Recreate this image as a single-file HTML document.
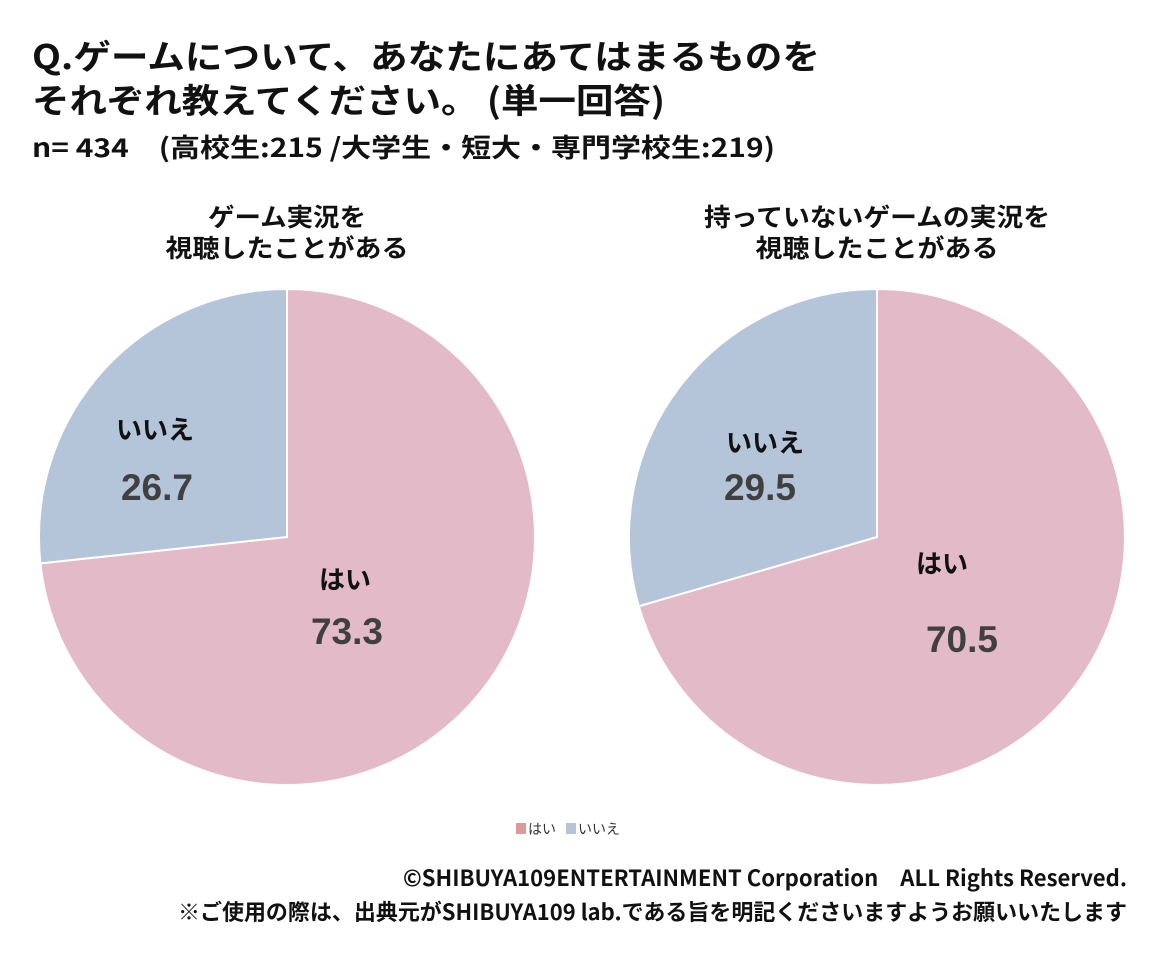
<!DOCTYPE html>
<html><head><meta charset="utf-8"><style>
body{margin:0;background:#fff;}
svg{display:block}
text{font-family:"Liberation Sans","Noto Sans CJK JP",sans-serif;}
.j{font-family:"Noto Sans CJK JP",sans-serif;font-weight:bold;}
</style></head><body>
<svg width="1160" height="970" viewBox="0 0 1160 970" xmlns="http://www.w3.org/2000/svg">
<rect width="1160" height="970" fill="#fff"/>
<text class="j" x="32" y="69" font-size="34" fill="#111" textLength="788" lengthAdjust="spacingAndGlyphs">Q.ゲームについて、あなたにあてはまるものを</text>
<text class="j" x="32" y="113" font-size="34" fill="#111" textLength="633" lengthAdjust="spacingAndGlyphs">それぞれ教えてください。 (単一回答)</text>
<text class="j" x="32" y="157" font-size="26" fill="#111" textLength="743" lengthAdjust="spacingAndGlyphs">n= 434　(高校生:215 /大学生・短大・専門学校生:219)</text>
<text class="j" x="287" y="226" font-size="25" fill="#111" text-anchor="middle" textLength="158" lengthAdjust="spacingAndGlyphs">ゲーム実況を</text>
<text class="j" x="287" y="257" font-size="25" fill="#111" text-anchor="middle" textLength="243" lengthAdjust="spacingAndGlyphs">視聴したことがある</text>
<text class="j" x="877" y="226" font-size="25" fill="#111" text-anchor="middle" textLength="346" lengthAdjust="spacingAndGlyphs">持っていないゲームの実況を</text>
<text class="j" x="877" y="257" font-size="25" fill="#111" text-anchor="middle" textLength="243" lengthAdjust="spacingAndGlyphs">視聴したことがある</text>
<!-- pie 1 -->
<path d="M287,537 L287,289 A248,248 0 1 1 40.4,563.4 Z" fill="#e3bbc8" stroke="#fff" stroke-width="2"/>
<path d="M287,537 L40.4,563.4 A248,248 0 0 1 287,289 Z" fill="#b4c5da" stroke="#fff" stroke-width="2"/>
<text class="j" x="155" y="439" font-size="26" fill="#111" text-anchor="middle">いいえ</text>
<text x="157" y="500" font-size="37" font-weight="bold" fill="#404040" text-anchor="middle">26.7</text>
<text class="j" x="345" y="589" font-size="26" fill="#111" text-anchor="middle">はい</text>
<text x="347" y="644" font-size="37" font-weight="bold" fill="#404040" text-anchor="middle">73.3</text>
<!-- pie 2 -->
<path d="M877,537 L877,289 A248,248 0 1 1 638.8,606.2 Z" fill="#e3bbc8" stroke="#fff" stroke-width="2"/>
<path d="M877,537 L638.8,606.2 A248,248 0 0 1 877,289 Z" fill="#b4c5da" stroke="#fff" stroke-width="2"/>
<text class="j" x="765" y="452" font-size="26" fill="#111" text-anchor="middle">いいえ</text>
<text x="760" y="500" font-size="37" font-weight="bold" fill="#404040" text-anchor="middle">29.5</text>
<text class="j" x="942" y="573" font-size="26" fill="#111" text-anchor="middle">はい</text>
<text x="962" y="652" font-size="37" font-weight="bold" fill="#404040" text-anchor="middle">70.5</text>
<!-- legend -->
<rect x="516" y="823" width="10" height="11" fill="#dc9a9a"/>
<text x="528" y="834" font-size="14" fill="#333" font-family="Noto Sans CJK JP,sans-serif">はい</text>
<rect x="566" y="823" width="10" height="11" fill="#b4c5da"/>
<text x="578" y="834" font-size="14" fill="#333" font-family="Noto Sans CJK JP,sans-serif">いいえ</text>
<text class="j" x="1127" y="886" font-size="22" fill="#111" text-anchor="end" textLength="724" lengthAdjust="spacingAndGlyphs">©SHIBUYA109ENTERTAINMENT Corporation　ALL Rights Reserved.</text>
<text class="j" x="1127" y="920" font-size="22" fill="#111" text-anchor="end" textLength="949" lengthAdjust="spacingAndGlyphs">※ご使用の際は、出典元がSHIBUYA109 lab.である旨を明記くださいますようお願いいたします</text>
</svg>
</body></html>
